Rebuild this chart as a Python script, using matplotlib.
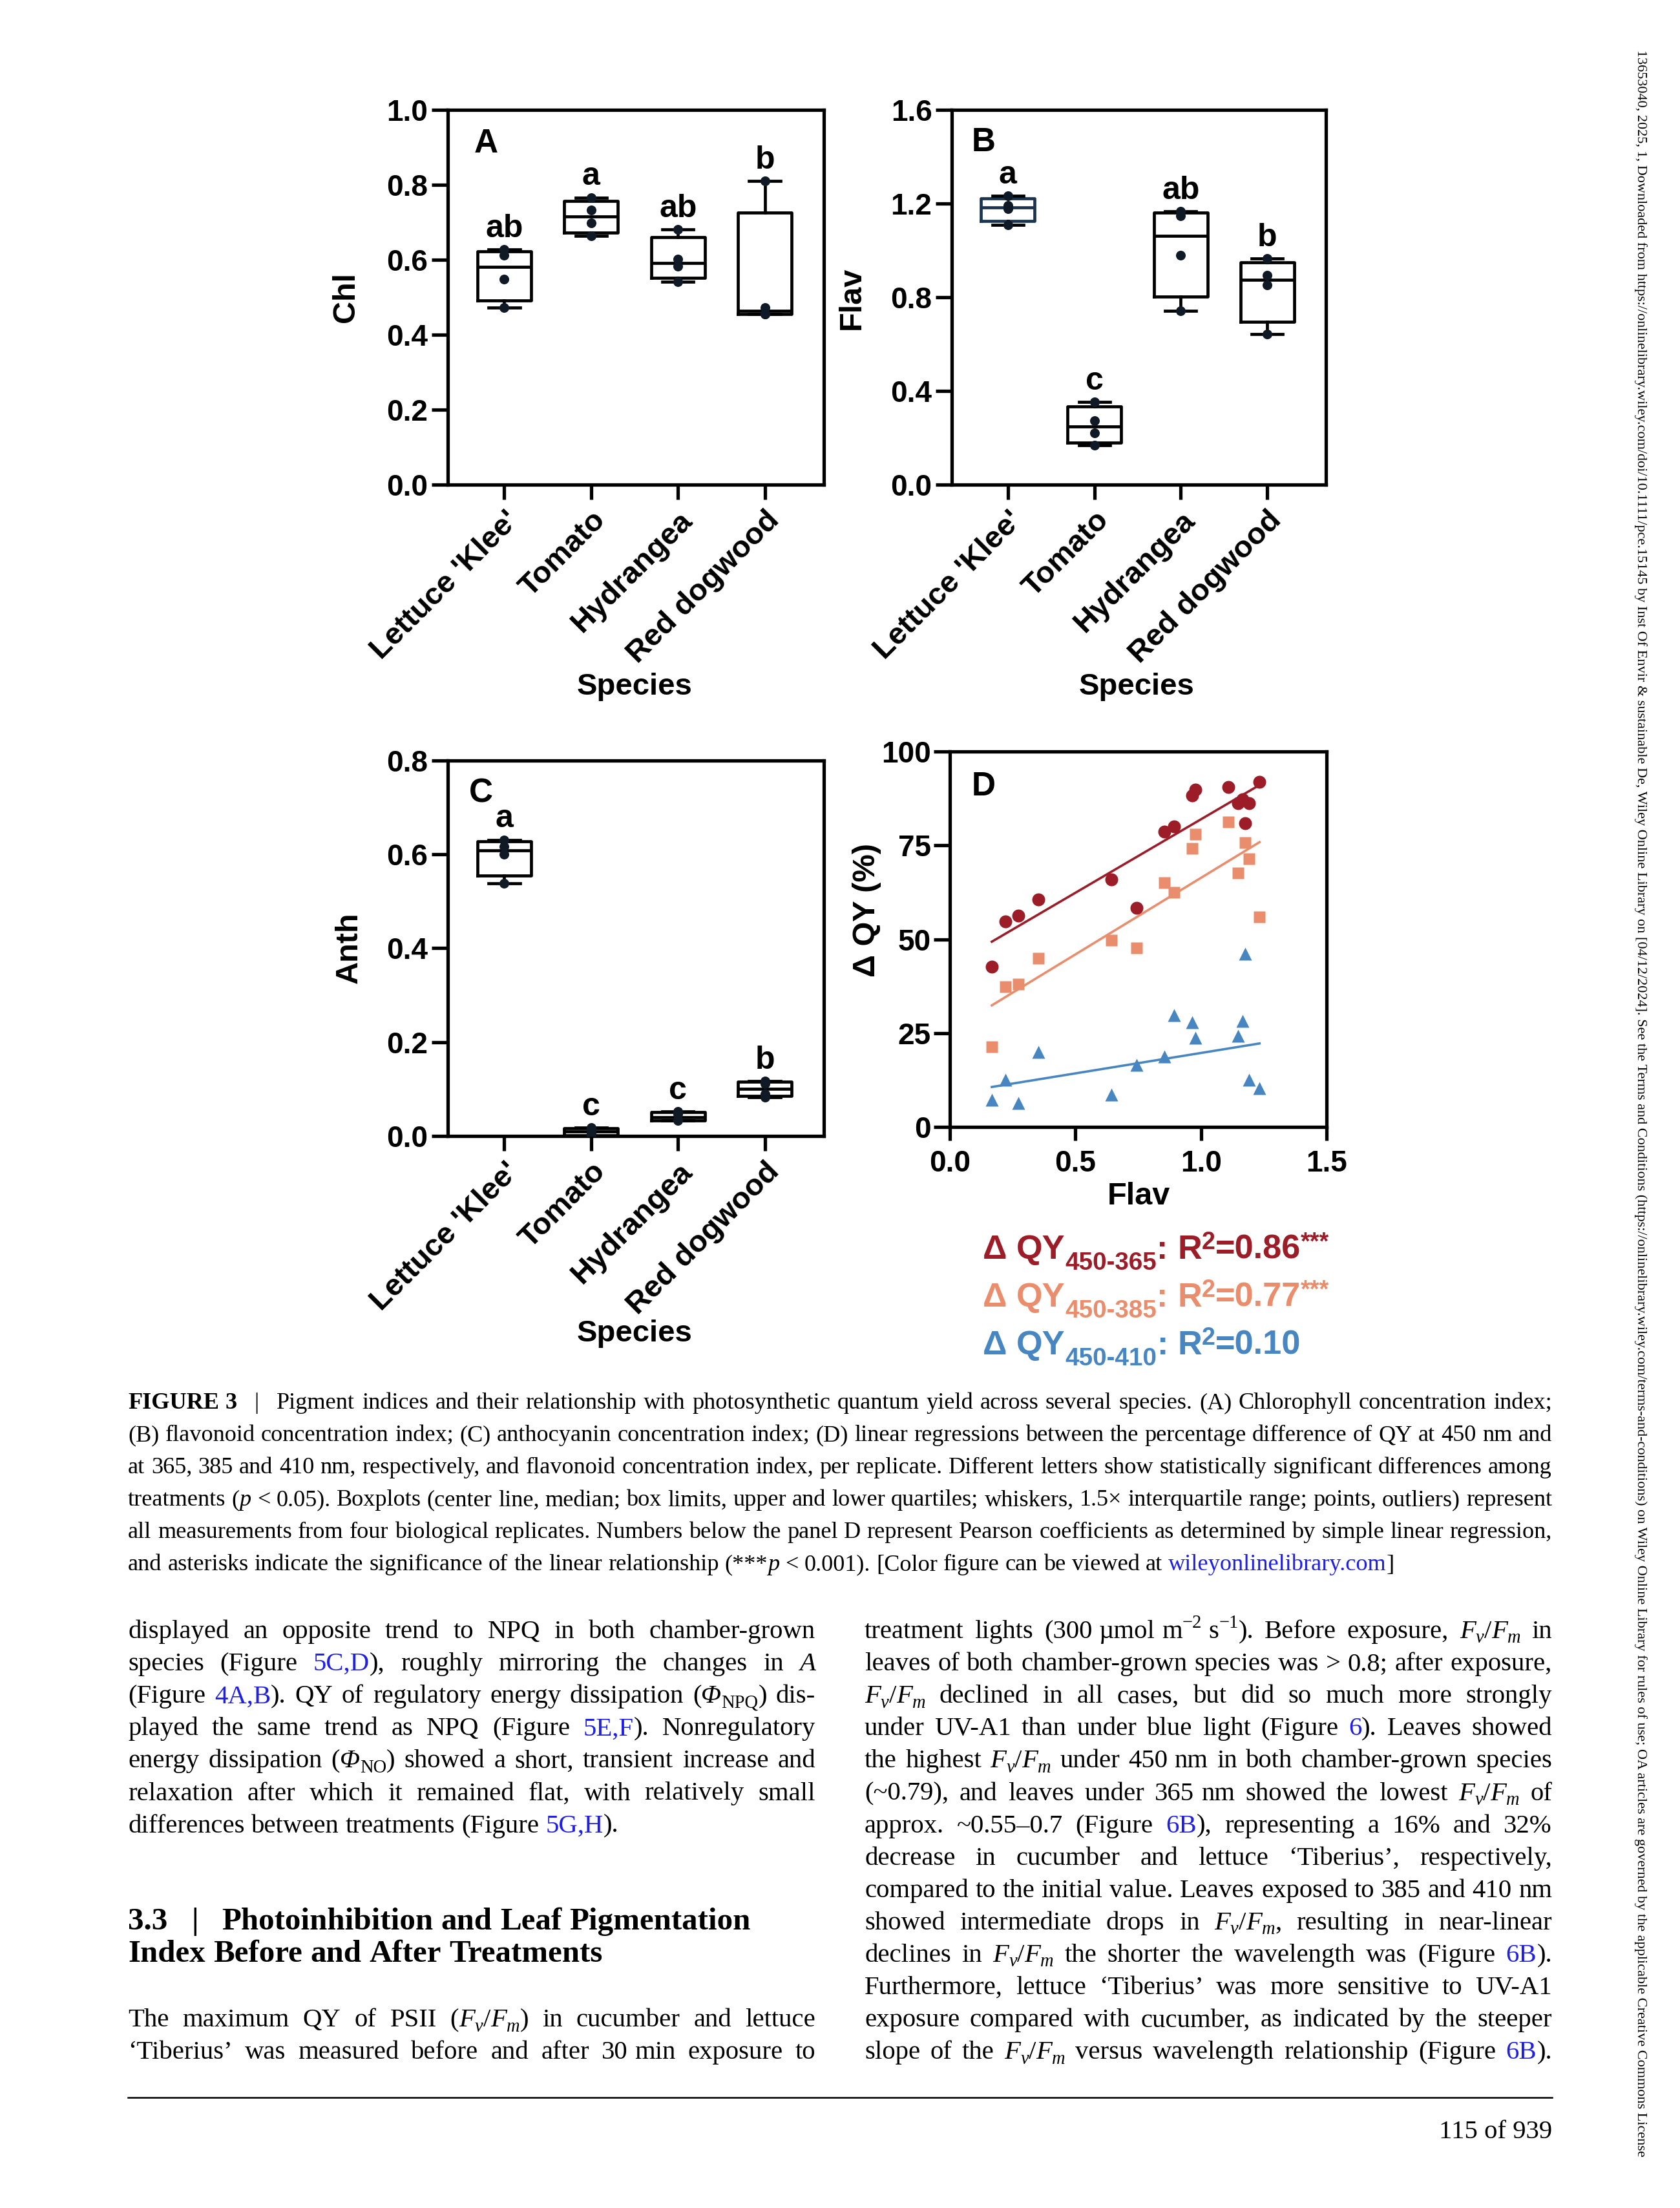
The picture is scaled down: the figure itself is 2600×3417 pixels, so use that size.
import re

import matplotlib
matplotlib.use("Agg")
import matplotlib.pyplot as plt
import numpy as np
from matplotlib import font_manager

W, H, DPI = 2600, 3417, 200

# ---------------- panel data ----------------
species = ["Lettuce 'Klee'", "Tomato", "Hydrangea", "Red dogwood"]

chl = [[0.472, 0.549, 0.612, 0.627],
       [0.664, 0.699, 0.733, 0.766],
       [0.541, 0.583, 0.601, 0.681],
       [0.456, 0.456, 0.472, 0.810]]
chl_letters = ["ab", "a", "ab", "b"]

flav = [[1.110, 1.177, 1.191, 1.233],
        [0.167, 0.220, 0.274, 0.353],
        [0.743, 0.978, 1.147, 1.166],
        [0.642, 0.853, 0.894, 0.966]]
flav_letters = ["a", "c", "ab", "b"]

anth = [[0.539, 0.600, 0.617, 0.631],
        [0.000, 0.006, 0.012, 0.018],
        [0.033, 0.034, 0.047, 0.052],
        [0.083, 0.090, 0.112, 0.117]]
anth_letters = ["a", "c", "c", "b"]

# panel D: flavonoid index per replicate vs. QY difference (%)
# (one 410 nm replicate lies below 0 and is clipped by the axis, estimated from the fit line)
d_flav = [0.167, 0.220, 0.274, 0.353, 0.642, 0.743, 0.853, 0.894,
          0.966, 0.978, 1.110, 1.147, 1.166, 1.177, 1.191, 1.233]
dqy_365 = [42.6, 54.7, 56.2, 60.5, 65.9, 58.3, 78.6, 80.1,
           88.3, 89.9, 90.6, 86.2, 87.3, 80.9, 86.2, 91.9]
dqy_385 = [21.4, 37.4, 38.0, 44.9, 49.7, 47.7, 65.1, 62.4,
           74.1, 78.0, 81.3, 67.7, np.nan, 75.8, 71.4, 55.9]
dqy_410 = [7.3, 12.6, 6.4, 20.0, 8.6, 16.5, 18.7, 29.7,
           27.9, 23.7, -9.0, 24.2, 28.2, 46.1, 12.6, 10.4]
d_series = ["365", "385", "410"]
d_r2 = ["0.86", "0.77", "0.10"]
d_stars = ["***", "***", ""]

RED, SALMON, BLUE = "#9c1c28", "#e98d6c", "#4886c2"
LINK = "#1f1fe6"

# ---------------- page text ----------------
FVFM = "<i>F</i><sub><i>v</i></sub>/<i>F</i><sub><i>m</i></sub>"
NB = "\u00a0"

caption_lines = [
    f"<b>FIGURE{NB}3</b>{NB*3}|{NB*3}Pigment indices and their relationship with photosynthetic quantum yield across several species. (A) Chlorophyll concentration index;",
    f"(B) flavonoid concentration index; (C) anthocyanin concentration index; (D) linear regressions between the percentage difference of QY at 450{NB}nm and",
    f"at 365, 385 and 410{NB}nm, respectively, and flavonoid concentration index, per replicate. Different letters show statistically significant differences among",
    f"treatments (<i>p</i>{NB}<{NB}0.05). Boxplots (center line, median; box limits, upper and lower quartiles; whiskers, 1.5× interquartile range; points, outliers) represent",
    "all measurements from four biological replicates. Numbers below the panel D represent Pearson coefficients as determined by simple linear regression,",
    f"and asterisks indicate the significance of the linear relationship (***<i>p</i>{NB}<{NB}0.001). [Color figure can be viewed at <a>wileyonlinelibrary.com</a>]",
]

left_lines = [
    "displayed an opposite trend to NPQ in both chamber-grown",
    "species (Figure <a>5C,D</a>), roughly mirroring the changes in <i>A</i>",
    "(Figure <a>4A,B</a>). QY of regulatory energy dissipation (<i>Φ</i><sub>NPQ</sub>) dis-",
    "played the same trend as NPQ (Figure <a>5E,F</a>). Nonregulatory",
    "energy dissipation (<i>Φ</i><sub>NO</sub>) showed a short, transient increase and",
    "relaxation after which it remained flat, with relatively small",
    "differences between treatments (Figure <a>5G,H</a>).",
]
heading_lines = [
    f"3.3{NB*3}|{NB*3}Photoinhibition and Leaf Pigmentation",
    "Index Before and After Treatments",
]
left_lines2 = [
    f"The maximum QY of PSII ({FVFM}) in cucumber and lettuce",
    f"‘Tiberius’ was measured before and after 30{NB}min exposure to",
]
right_lines = [
    f"treatment lights (300{NB}µmol{NB}m<sup>−2</sup>{NB}s<sup>−1</sup>). Before exposure, {FVFM} in",
    f"leaves of both chamber-grown species was >{NB}0.8; after exposure,",
    f"{FVFM} declined in all cases, but did so much more strongly",
    "under UV-A1 than under blue light (Figure <a>6</a>). Leaves showed",
    f"the highest {FVFM} under 450{NB}nm in both chamber-grown species",
    f"(~0.79), and leaves under 365{NB}nm showed the lowest {FVFM} of",
    "approx. ~0.55–0.7 (Figure <a>6B</a>), representing a 16% and 32%",
    "decrease in cucumber and lettuce ‘Tiberius’, respectively,",
    f"compared to the initial value. Leaves exposed to 385 and 410{NB}nm",
    f"showed intermediate drops in {FVFM}, resulting in near-linear",
    f"declines in {FVFM} the shorter the wavelength was (Figure <a>6B</a>).",
    "Furthermore, lettuce ‘Tiberius’ was more sensitive to UV-A1",
    "exposure compared with cucumber, as indicated by the steeper",
    f"slope of the {FVFM} versus wavelength relationship (Figure <a>6B</a>).",
]
side_note = ("13653040, 2025, 1, Downloaded from https://onlinelibrary.wiley.com/doi/10.1111/pce.15145 "
             "by Inst Of Envir & sustainable De, Wiley Online Library on [04/12/2024]. See the Terms and "
             "Conditions (https://onlinelibrary.wiley.com/terms-and-conditions) on Wiley Online Library for "
             "rules of use; OA articles are governed by the applicable Creative Commons License")
page_number = "115 of 939"

# ---------------- setup ----------------
SANS = "Liberation Sans"
SERIF = "Liberation Serif"
_names = {f.name for f in font_manager.fontManager.ttflist}
NARROW = next((n for n in ["Liberation Sans Narrow", "Arial Narrow", "DejaVu Sans Condensed"]
               if n in _names), None)

plt.rcParams.update({
    "font.family": SANS,
    "font.weight": "bold",
    "axes.linewidth": 1.9,
    "xtick.major.width": 1.9,
    "ytick.major.width": 1.9,
    "xtick.major.size": 8.3,
    "ytick.major.size": 9,
    "xtick.labelsize": 16.5,
    "ytick.labelsize": 16.5,
})

fig = plt.figure(figsize=(W / DPI, H / DPI), dpi=DPI)
renderer = fig.canvas.get_renderer()
PT = DPI / 72.0


def fx(x):
    return x / W


def fy(y):
    return 1 - y / H


def rect(x0, y0, x1, y1):
    """Axes rectangle from pixel box (top-left origin)."""
    return [fx(x0), fy(y1), (x1 - x0) / W, (y1 - y0) / H]


# ---------------- box panels ----------------
def box_panel(box, values, letters, ymax, ystep, tag, tag_xy, ylabel, ylabel_xy,
              xlabel_xy, edge_colors=None):
    ax = fig.add_axes(rect(*box))
    stats = []
    for v in values:
        v = np.asarray(v)
        q1, med, q3 = np.percentile(v, [25, 50, 75], method="weibull")
        stats.append(dict(med=med, q1=q1, q3=q3, whislo=v.min(), whishi=v.max(), fliers=[]))
    lp = dict(color="black", linewidth=1.7)
    parts = ax.bxp(stats, positions=range(len(values)), widths=0.62, capwidths=0.36,
                   showfliers=False, boxprops=lp, whiskerprops=lp, capprops=lp,
                   medianprops=lp, manage_ticks=False)
    if edge_colors:
        for i, c in enumerate(edge_colors):
            if c:
                parts["boxes"][i].set_color(c)
                parts["medians"][i].set_color(c)
    for i, v in enumerate(values):
        ax.plot(np.full(len(v), i), v, "o", ms=4.4, color="#101a26", zorder=4)
        ax.text(i, max(v) + 0.016 * ymax, letters[i], ha="center", va="bottom",
                fontsize=18, fontweight="bold")
    ax.set_xlim(-0.65, 3.68)
    ax.set_ylim(0, ymax)
    ticks = np.arange(0, ymax + 1e-9, ystep)
    ax.set_yticks(ticks)
    ax.set_yticklabels([f"{t:.1f}" for t in ticks])
    ax.tick_params(axis="y", pad=2)
    ax.set_xticks(range(len(values)))
    ax.set_xticklabels(species, rotation=45, ha="right", va="top",
                       rotation_mode="anchor", fontsize=17)
    fig.text(fx(tag_xy[0]), fy(tag_xy[1]), tag, ha="center", va="center",
             fontsize=18.5, fontweight="bold")
    fig.text(fx(ylabel_xy[0]), fy(ylabel_xy[1]), ylabel, rotation=90, ha="center",
             va="center", fontsize=17.5, fontweight="bold")
    fig.text(fx(xlabel_xy[0]), fy(xlabel_xy[1]), "Species", ha="center", va="center",
             fontsize=17, fontweight="bold")
    return ax


box_panel((693, 170, 1275, 750), chl, chl_letters, 1.0, 0.2, "A", (752, 223),
          "Chl", (535, 460), (982, 1063))
box_panel((1473, 170, 2052, 750), flav, flav_letters, 1.6, 0.4, "B", (1522, 220),
          "Flav", (1318, 461), (1759, 1063), edge_colors=["#1b3550", None, None, None])
box_panel((693, 1177, 1275, 1758), anth, anth_letters, 0.8, 0.2, "C", (744, 1228),
          "Anth", (540, 1467), (982, 2064))

# ---------------- panel D ----------------
axd = fig.add_axes(rect(1470, 1163, 2053, 1744))
x = np.asarray(d_flav)
for yv, col, mk, ms in zip([dqy_365, dqy_385, dqy_410], [RED, SALMON, BLUE],
                           ["o", "s", "^"], [7.2, 6.6, 7.2]):
    y = np.asarray(yv, dtype=float)
    ok = ~np.isnan(y)
    slope, icpt = np.polyfit(x[ok], y[ok], 1)
    xx = np.array([x[ok].min(), x[ok].max()])
    axd.plot(xx, slope * xx + icpt, color=col, lw=1.3, zorder=2)
    axd.plot(x[ok], y[ok], mk, color=col, ms=ms, mec="none", zorder=3)
axd.set_xlim(0, 1.5)
axd.set_ylim(0, 100)
axd.set_xticks([0, 0.5, 1.0, 1.5])
axd.set_xticklabels(["0.0", "0.5", "1.0", "1.5"])
axd.set_yticks([0, 25, 50, 75, 100])
axd.tick_params(axis="x", pad=5, length=7.5)
axd.tick_params(axis="y", pad=1.5)
fig.text(fx(1522), fy(1217), "D", ha="center", va="center", fontsize=18.5, fontweight="bold")
fig.text(fx(1341), fy(1408), "Δ QY (%)", rotation=90, ha="center", va="center",
         fontsize=17.5, fontweight="bold")
fig.text(fx(1762), fy(1852), "Flav", ha="center", va="center", fontsize=17.5,
         fontweight="bold")

# ---------------- rich text helpers ----------------
TAG = re.compile(r"(</?(?:i|b|a|sub|sup)>)")


def parse(markup):
    stack, out = [], []
    for part in TAG.split(markup):
        if not part:
            continue
        m = re.fullmatch(r"<(/?)(\w+)>", part)
        if m:
            if m.group(1):
                stack.remove(m.group(2))
            else:
                stack.append(m.group(2))
        else:
            out.append((part, frozenset(stack)))
    return out


def to_words(markup):
    words = [[]]
    for text, tags in parse(markup):
        for k, piece in enumerate(text.split(" ")):
            if k > 0:
                words.append([])
            if piece:
                words[-1].append((piece, tags))
    return [w for w in words if w]


_space = {}


def space_width(size, family, weight):
    key = (round(size, 3), family, weight)
    if key not in _space:
        a = fig.text(0, 0, "n n", fontsize=size, family=family, weight=weight)
        b = fig.text(0, 0, "nn", fontsize=size, family=family, weight=weight)
        _space[key] = a.get_window_extent(renderer).width - b.get_window_extent(renderer).width
        a.remove()
        b.remove()
    return _space[key]


def build_word(word, size, family, color, weight, sub=(0.7, -0.18), sup=(0.7, 0.4)):
    items, pos = [], 0.0
    for text, tags in word:
        s, dy = size, 0.0
        if "sub" in tags:
            s, dy = size * sub[0], size * sub[1]
        elif "sup" in tags:
            s, dy = size * sup[0], size * sup[1]
        w_ = "bold" if "b" in tags else weight
        for j, seg in enumerate(text.split(NB)):
            if j > 0:
                pos += space_width(size, family, w_)
            if not seg:
                continue
            t = fig.text(0, 0, seg, fontsize=s, family=family, weight=w_,
                         style="italic" if "i" in tags else "normal",
                         color=LINK if "a" in tags else color, ha="left", va="baseline")
            items.append((t, pos, dy * PT))
            pos += t.get_window_extent(renderer).width
    return items, pos


def natural_width(markup, size, family, weight="normal", **kw):
    words = [build_word(w, size, family, "black", weight, **kw) for w in to_words(markup)]
    total = sum(w for _, w in words) + space_width(size, family, weight) * (len(words) - 1)
    for items, _ in words:
        for t, _, _ in items:
            t.remove()
    return total


def draw_line(markup, x0, x1, base, size, family, justify=True, color="black",
              weight="normal", **kw):
    words = [build_word(w, size, family, color, weight, **kw) for w in to_words(markup)]
    total = sum(w for _, w in words)
    if justify and len(words) > 1:
        gap = (x1 - x0 - total) / (len(words) - 1)
    else:
        gap = space_width(size, family, weight)
    xpos = x0
    for items, w in words:
        for t, dx, dy in items:
            t.set_position((fx(xpos + dx), fy(base - dy)))
        xpos += w + gap


def fit_size(lines, avail, family, weight="normal", ref=10.0, **kw):
    ratio = max(natural_width(l, ref, family, weight, **kw) / avail for l in lines)
    return ref / ratio


# ---------------- D legend ----------------
leg_colors = [RED, SALMON, BLUE]
leg_lines = [f"Δ{NB}QY<sub>450-{s}</sub>:{NB}R<sup>2</sup>={r}" + (f"<sup>{st}</sup>" if st else "")
             for s, r, st in zip(d_series, d_r2, d_stars)]
leg_kw = dict(sub=(0.74, -0.32), sup=(0.72, 0.28))
leg_family = NARROW or SANS
leg_size = fit_size(leg_lines[:1], 490 if NARROW else 535, leg_family, "bold", **leg_kw)
for k, (line, col) in enumerate(zip(leg_lines, leg_colors)):
    draw_line(line, 1521, 2060, 1948 + 74 * k, leg_size, leg_family, justify=False,
              color=col, weight="bold", **leg_kw)

# ---------------- caption ----------------
cap_size = fit_size(caption_lines[:-1], 2204, SERIF)
for k, line in enumerate(caption_lines):
    draw_line(line, 198, 2402, 2180 + 50.1 * k, cap_size, SERIF,
              justify=k < len(caption_lines) - 1)

# ---------------- body columns ----------------
body_size = min(fit_size(left_lines[:-1] + left_lines2, 1064, SERIF),
                fit_size(right_lines, 1064, SERIF))
BASE, STEP = 2535, 50.1
for k, line in enumerate(left_lines):
    draw_line(line, 198, 1262, BASE + STEP * k, body_size, SERIF,
              justify=k < len(left_lines) - 1)
head_size = fit_size(heading_lines[:1], 964, SERIF, "bold")
for k, line in enumerate(heading_lines):
    draw_line(line, 198, 1262, BASE + STEP * (9 + k), head_size, SERIF,
              justify=False, weight="bold")
for k, line in enumerate(left_lines2):
    draw_line(line, 198, 1262, BASE + STEP * (12 + k), body_size, SERIF)
for k, line in enumerate(right_lines):
    draw_line(line, 1338, 2402, BASE + STEP * k, body_size, SERIF)

# ---------------- footer and side note ----------------
fig.add_artist(plt.Line2D([fx(198), fx(2402)], [fy(3246), fy(3246)], color="black",
                          lw=0.9, transform=fig.transFigure))
fig.text(fx(2402), fy(3309), page_number, ha="right", va="baseline",
         fontsize=body_size, family=SERIF, weight="normal")

probe = fig.text(0, 0, side_note, fontsize=10, family=SERIF, weight="normal")
side_size = 10 * 3268 / probe.get_window_extent(renderer).width
probe.remove()
fig.text(fx(2539), fy(77), side_note, rotation=-90, ha="center", va="top",
         fontsize=side_size, family=SERIF, weight="normal")

fig.savefig("out.png", dpi=DPI, facecolor="white")
